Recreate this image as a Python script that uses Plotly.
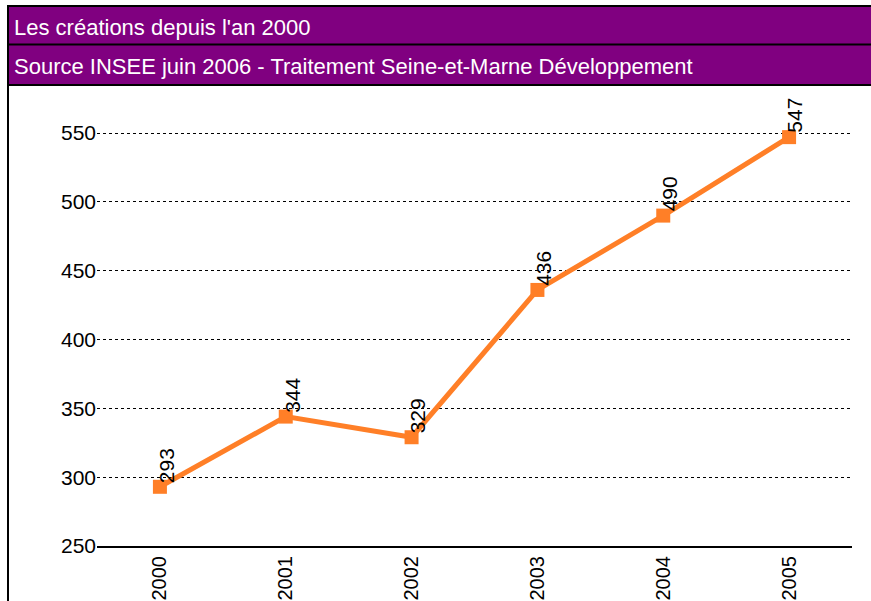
import plotly.graph_objects as go

years = ["2000", "2001", "2002", "2003", "2004", "2005"]
values = [293, 344, 329, 436, 490, 547]
title_text = "Les créations depuis l'an 2000"
source_text = "Source INSEE juin 2006 - Traitement Seine-et-Marne Développement"

W, H = 871, 601
L, R, T, B = 97, 19, 131, 55
PW, PH = W - L - R, H - T - B
YMIN = 250
YMAX = 250 + PH / (413 / 300)

def px(x):
    return (x - L) / PW

def py(y):
    return (H - B - y) / PH

FONT = "Arial, Liberation Sans, sans-serif"
ORANGE = "#FF7F27"
PURPLE = "#800080"

fig = go.Figure()
fig.add_trace(go.Scatter(
    x=list(range(len(years))), y=values, mode="lines+markers",
    line=dict(color=ORANGE, width=5),
    marker=dict(symbol="square", size=14, color=ORANGE),
    cliponaxis=False, showlegend=False, hoverinfo="skip",
))

for i, v in enumerate(values):
    fig.add_annotation(
        x=i, y=v, text=str(v), textangle=-90, showarrow=False,
        xanchor="center", yanchor="bottom", xshift=6, yshift=2,
        font=dict(family=FONT, size=21, color="black"),
    )

def line(x0, y0, x1, y1, w=2):
    return dict(type="line", xref="paper", yref="paper",
                x0=px(x0), x1=px(x1), y0=py(y0), y1=py(y1),
                line=dict(color="black", width=w), layer="above")

shapes = [
    dict(type="rect", xref="paper", yref="paper",
         x0=px(8), x1=px(W), y0=py(85), y1=py(6),
         line=dict(width=0), fillcolor=PURPLE, layer="above"),
    line(8, 6, W, 6),
    line(8, 44.5, W, 44.5),
    line(8, 85, W, 85),
    line(8, 5, 8, H),
]
fig.update_layout(shapes=shapes)

fig.add_annotation(xref="paper", yref="paper", x=px(12), y=py(27),
                   text=title_text, showarrow=False, xanchor="left", yanchor="middle",
                   font=dict(family=FONT, size=22, color="white"))
fig.add_annotation(xref="paper", yref="paper", x=px(12), y=py(67),
                   text=source_text, showarrow=False, xanchor="left", yanchor="middle",
                   font=dict(family=FONT, size=22, color="white"))

fig.update_xaxes(
    range=[-0.5, 5.5], showgrid=False, zeroline=False, automargin=False,
    tickmode="array", tickvals=list(range(len(years))), ticktext=years,
    showline=True, linecolor="black", linewidth=2,
    tickangle=-90, ticks="",
    tickfont=dict(family=FONT, size=20, color="black"),
)
fig.update_yaxes(
    range=[YMIN, YMAX], tickvals=[250, 300, 350, 400, 450, 500, 550],
    showgrid=True, gridcolor="black", gridwidth=1, griddash="dot",
    zeroline=False, showline=False, automargin=False,
    ticks="",
    tickfont=dict(family=FONT, size=21, color="black"),
)
fig.update_layout(
    width=W, height=H, margin=dict(l=L, r=R, t=T, b=B, pad=0, autoexpand=False),
    paper_bgcolor="white", plot_bgcolor="white",
    font=dict(family=FONT),
)
fig.write_html("out.html", config={"displayModeBar": False},
               post_script="document.body.style.margin='0';")
